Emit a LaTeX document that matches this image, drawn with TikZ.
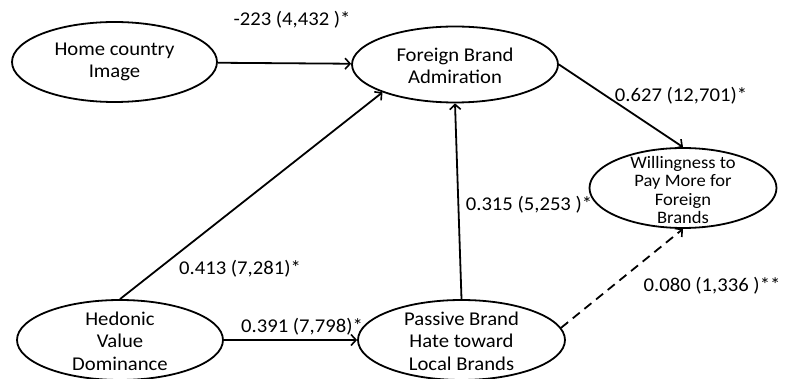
\documentclass[tikz,border=0pt]{standalone}
\usepackage{fontspec}
\setmainfont{Carlito}[FakeStretch=1.06]
\usetikzlibrary{shapes.geometric,arrows.meta}
\tikzset{
  oval/.style={draw, line width=1.8pt, ellipse, inner sep=0pt},
  txt/.style={align=center, font=\fontsize{19.5}{22.5}\selectfont, inner sep=0pt},
  smalltxt/.style={align=center, font=\fontsize{17.5}{18.5}\selectfont, inner sep=0pt},
  lbl/.style={font=\fontsize{19.5}{22}\selectfont, inner sep=0pt},
  arr/.style={line width=1.8pt, -{Straight Barb[length=5pt,width=11pt,line width=1.6pt]}},
  dasharr/.style={arr, dash pattern=on 9pt off 6pt},
}
\begin{document}
\begin{tikzpicture}[x=1pt,y=-1pt]
\useasboundingbox (0,0) rectangle (785,379);
% ellipses
\node[oval, minimum width=205pt, minimum height=80pt] (home) at (114.5,62) {};
\node[oval, minimum width=206pt, minimum height=76pt] (fba) at (455,64.5) {};
\node[oval, minimum width=187pt, minimum height=80pt] (wtp) at (683,188) {};
\node[oval, minimum width=206pt, minimum height=80pt] (hvd) at (120,340) {};
\node[oval, minimum width=207pt, minimum height=80pt] (pbh) at (461.5,340) {};
% texts
\node[txt] (homet) at (home) {Home country\\Image};
\node[txt] (fbat) at (455,66) {Foreign Brand\\Admiration};
\node[smalltxt] (wtpt) at (683,190) {Willingness to\\Pay More for\\Foreign\\Brands};
\node[txt] (hvdt) at (120,341) {Hedonic\\Value\\Dominance};
\node[txt] (pbht) at (461.5,341) {Passive Brand\\Hate toward\\Local Brands};
% connectors
\draw[arr] (home) -- (fba);
\draw[arr] (hvd.north) -- (fba.201);
\draw[arr] (pbh.north) -- (fba.south);
\draw[arr] (fba.east) -- (wtp.north);
\draw[arr] (hvd.east) -- (pbh.west);
\draw[dasharr] (pbh.7) -- (wtp.south);
% labels
\node[lbl] (l1) at (292,20) {-223 (4,432 )*};
\node[lbl] (l2) at (681,96) {0.627 (12,701)*};
\node[lbl] (l3) at (529,205) {0.315 (5,253 )*};
\node[lbl] (l4) at (240,269) {0.413 (7,281)*};
\node[lbl] (l5) at (302,327) {0.391 (7,798)*};
\node[lbl] (l6) at (712,286) {0.080 (1,336 )**};
\end{tikzpicture}
\end{document}
